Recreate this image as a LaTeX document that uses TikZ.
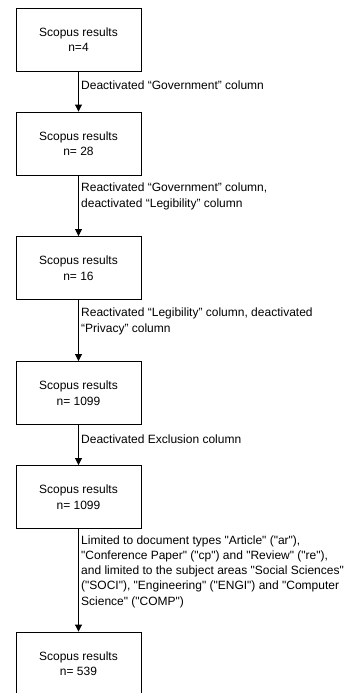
\documentclass[tikz,border=0pt]{standalone}
\usepackage{fontspec}
\setmainfont{Liberation Sans}[Ligatures=TeXOff]
\usetikzlibrary{arrows.meta}
\tikzset{
  resbox/.style={draw=black, line width=0.9pt, minimum width=125pt, minimum height=63pt, align=center, inner sep=0pt, font=\fontsize{12}{15.5}\selectfont},
  edgelbl/.style={anchor=west, align=left, inner sep=0pt, font=\fontsize{12}{15.3}\selectfont},
  flow/.style={draw=black, line width=0.9pt, -{Stealth[length=7pt,width=7pt,inset=0pt]}}
}
\begin{document}
\begin{tikzpicture}[x=1pt,y=-1pt]
\useasboundingbox (0,0) rectangle (353,693);
\clip (0,0) rectangle (353,693);
\node[resbox] (b1) at (78.5,39.5) {Scopus results\\n=4};
\node[resbox] (b2) at (78.5,143.5) {Scopus results\\n= 28};
\node[resbox] (b3) at (78.5,268) {Scopus results\\n= 16};
\node[resbox] (b4) at (78.5,393) {Scopus results\\n= 1099};
\node[resbox] (b5) at (78.5,497) {Scopus results\\n= 1099};
\node[resbox] (b6) at (78.5,663.5) {Scopus results\\n= 539};
\draw[flow] (b1) -- (b2);
\draw[flow] (b2) -- (b3);
\draw[flow] (b3) -- (b4);
\draw[flow] (b4) -- (b5);
\draw[flow] (b5) -- (b6);
\node[edgelbl] (l1) at (81,85) {Deactivated “Government” column};
\node[edgelbl] (l2) at (81,196.5) {Reactivated “Government” column,\\deactivated “Legibility” column};
\node[edgelbl] (l3) at (81,321.5) {Reactivated “Legibility” column, deactivated\\“Privacy” column};
\node[edgelbl] (l4) at (81,439) {Deactivated Exclusion column};
\node[edgelbl] (l5) at (81,571.5) {Limited to document types "Article" ("ar"),\\"Conference Paper" ("cp") and "Review" ("re"),\\and limited to the subject areas "Social Sciences"\\("SOCI"), "Engineering" ("ENGI") and "Computer\\Science" ("COMP")};
\end{tikzpicture}
\end{document}
